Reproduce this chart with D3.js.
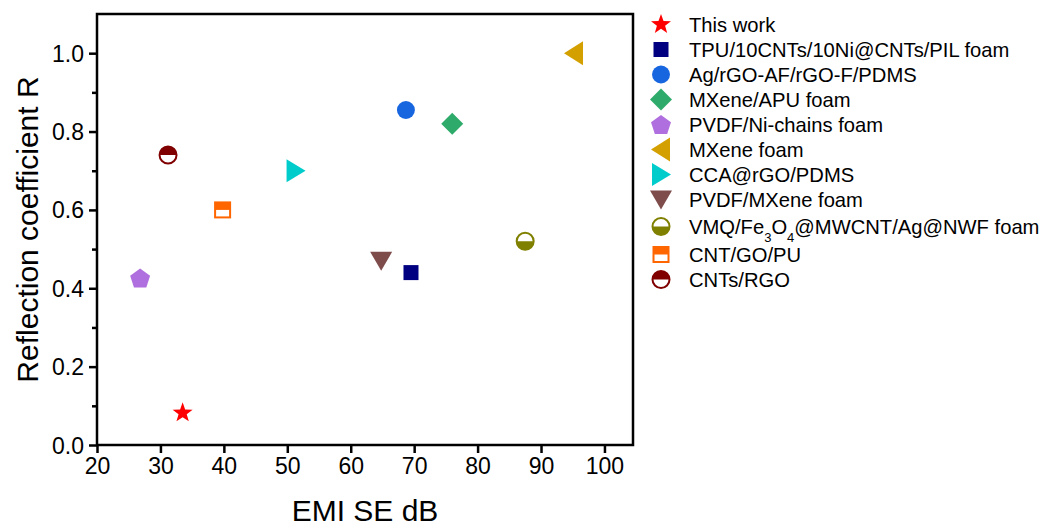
<!DOCTYPE html>
<meta charset="utf-8">
<script src="https://d3js.org/d3.v7.min.js"></script>
<style>
  body { margin: 0; background: white; }
  text { font-family: "Liberation Sans", Arial, sans-serif; }
</style>
<div id="chart"></div>
<script>

// data
const names = ["This work", "TPU/10CNTs/10Ni@CNTs/PIL foam", "Ag/rGO-AF/rGO-F/PDMS",
  "MXene/APU foam", "PVDF/Ni-chains foam", "MXene foam", "CCA@rGO/PDMS",
  "PVDF/MXene foam", "VMQ/Fe3O4@MWCNT/Ag@NWF foam", "CNT/GO/PU", "CNTs/RGO"];
const emiSE = [33.5, 69.5, 68.7, 76, 26.8, 95.2, 51.3, 64.8, 87.5, 39.8, 31.2];
const reflR = [0.082, 0.44, 0.855, 0.82, 0.426, 1.0, 0.70, 0.47, 0.52, 0.60, 0.74];
const xTicks = [20, 30, 40, 50, 60, 70, 80, 90, 100];
const yTicks = [0.0, 0.2, 0.4, 0.6, 0.8, 1.0];

// marker look per series
const shapes = ["star", "square", "circle", "diamond", "pentagon", "triLeft",
  "triRight", "triDown", "halfCircleBottom", "halfSquareTop", "halfCircleTop"];
const colors = ["#ff0000", "#000080", "#1766e0", "#2eab6a", "#b06fde", "#d4a000",
  "#00cccc", "#7f4c4c", "#808000", "#ff6600", "#800000"];

const W = 1043, H = 528;
const margin = {left: 97, right: 410, top: 14, bottom: 83};

const svg = d3.select("#chart").append("svg")
  .attr("width", W).attr("height", H);

const x = d3.scaleLinear().domain([20, 104.5]).range([margin.left, W - margin.right]);
const y = d3.scaleLinear().domain([0, 1.1]).range([H - margin.bottom, margin.top]);

// axes
svg.append("g")
  .attr("transform", `translate(0,${y(0)})`)
  .call(d3.axisBottom(x).tickValues(xTicks).tickSize(8).tickPadding(5).tickFormat(d3.format("d")))
  .call(g => g.selectAll("text").attr("font-size", 23).attr("fill", "#000"))
  .call(g => g.selectAll("line").attr("stroke-width", 2.5))
  .call(g => g.select(".domain").remove());

svg.append("g")
  .attr("transform", `translate(${x(20)},0)`)
  .call(d3.axisLeft(y).tickValues(d3.range(0.1, 1.1, 0.2)).tickSize(5).tickFormat(""))
  .call(g => g.selectAll("line").attr("stroke-width", 2.5))
  .call(g => g.select(".domain").remove());

svg.append("g")
  .attr("transform", `translate(${x(20)},0)`)
  .call(d3.axisLeft(y).tickValues(yTicks).tickSize(8).tickPadding(5).tickFormat(d3.format(".1f")))
  .call(g => g.selectAll("text").attr("font-size", 23).attr("fill", "#000").attr("dy", "0.35em"))
  .call(g => g.selectAll("line").attr("stroke-width", 2.5))
  .call(g => g.select(".domain").remove());

// frame
svg.append("rect")
  .attr("x", x(20)).attr("y", y(1.1))
  .attr("width", x(104.5) - x(20)).attr("height", y(0) - y(1.1))
  .attr("fill", "none").attr("stroke", "#000").attr("stroke-width", 2.5);

// axis titles
svg.append("text")
  .attr("x", (x(20) + x(104.5)) / 2).attr("y", 521)
  .attr("text-anchor", "middle").attr("font-size", 30)
  .text("EMI SE dB");

svg.append("text")
  .attr("transform", `translate(38,${(y(0) + y(1.1)) / 2}) rotate(-90)`)
  .attr("text-anchor", "middle").attr("font-size", 30)
  .text("Reflection coefficient R");

// marker drawing
function polygon(n, r, rot) {
  return d3.range(n).map(i => {
    const a = rot + i * 2 * Math.PI / n;
    return [r * Math.cos(a), r * Math.sin(a)];
  });
}
function pathOf(pts) { return "M" + pts.map(p => p.join(",")).join("L") + "Z"; }

function drawMarker(g, shape, color) {
  if (shape === "star") {
    const pts = d3.range(10).map(i => {
      const r = i % 2 === 0 ? 10.5 : 4.3;
      const a = -Math.PI / 2 + i * Math.PI / 5;
      return [r * Math.cos(a), r * Math.sin(a)];
    });
    g.append("path").attr("d", pathOf(pts)).attr("fill", color);
  } else if (shape === "square") {
    g.append("rect").attr("x", -7.5).attr("y", -7.5).attr("width", 15).attr("height", 15).attr("fill", color);
  } else if (shape === "circle") {
    g.append("circle").attr("r", 9).attr("fill", color);
  } else if (shape === "diamond") {
    g.append("path").attr("d", pathOf([[0, -11], [11, 0], [0, 11], [-11, 0]])).attr("fill", color);
  } else if (shape === "pentagon") {
    g.append("path").attr("d", pathOf(polygon(5, 10.5, -Math.PI / 2))).attr("transform", "translate(0,1)").attr("fill", color);
  } else if (shape === "triLeft") {
    g.append("path").attr("d", pathOf([[-10, 0], [9, -12], [9, 12]])).attr("fill", color);
  } else if (shape === "triRight") {
    g.append("path").attr("d", pathOf([[10, 0], [-9, -11.5], [-9, 11.5]])).attr("fill", color);
  } else if (shape === "triDown") {
    g.append("path").attr("d", pathOf([[0, 10], [-11, -9], [11, -9]])).attr("fill", color);
  } else if (shape === "halfCircleTop" || shape === "halfCircleBottom") {
    const r = 8.5;
    g.append("circle").attr("r", r).attr("fill", "#fff");
    const sweep = shape === "halfCircleTop" ? 1 : 0;
    g.append("path").attr("d", `M${-r},0A${r},${r} 0 0 ${sweep} ${r},0Z`).attr("fill", color);
    g.append("circle").attr("r", r).attr("fill", "none").attr("stroke", color).attr("stroke-width", 2);
  } else if (shape === "halfSquareTop") {
    g.append("rect").attr("x", -7.5).attr("y", -7.5).attr("width", 15).attr("height", 15)
      .attr("fill", "#fff").attr("stroke", color).attr("stroke-width", 2);
    g.append("rect").attr("x", -7.5).attr("y", -7.5).attr("width", 15).attr("height", 7.5).attr("fill", color);
  }
}

// points
names.forEach((n, i) => {
  const g = svg.append("g").attr("transform", `translate(${x(emiSE[i])},${y(reflR[i])})`);
  drawMarker(g, shapes[i], colors[i]);
});

// legend
const legendY = names.map((n, i) => 24.5 + i * 25 + (i >= 8 ? 2 : 0) + (i >= 9 ? 3 : 0));
names.forEach((n, i) => {
  const g = svg.append("g").attr("transform", `translate(661,${legendY[i]})`);
  drawMarker(g, shapes[i], colors[i]);
  const t = svg.append("text")
    .attr("x", 689).attr("y", legendY[i]).attr("dy", "0.35em")
    .attr("font-size", 20.2);
  if (n.startsWith("VMQ")) {
    t.append("tspan").text("VMQ/Fe");
    t.append("tspan").text("3").attr("font-size", 13).attr("baseline-shift", "sub");
    t.append("tspan").text("O");
    t.append("tspan").text("4").attr("font-size", 13).attr("baseline-shift", "sub");
    t.append("tspan").text("@MWCNT/Ag@NWF foam");
  } else {
    t.text(n);
  }
});

</script>
